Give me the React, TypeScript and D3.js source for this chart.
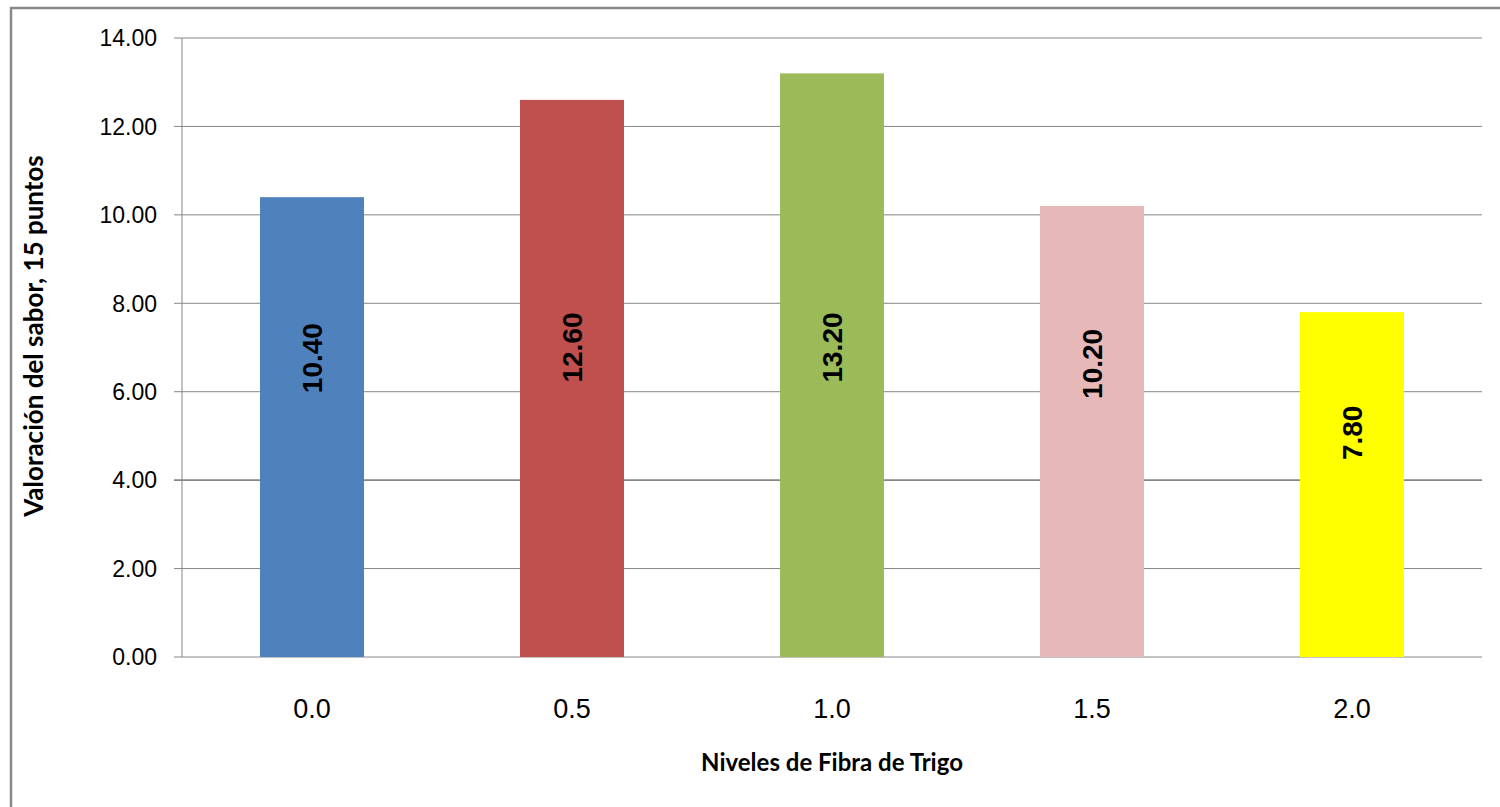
import React from "react";
import * as d3 from "d3";

// Wheat fibre levels and the flavour score (out of 15 points) for each
const niveles: string[] = ["0.0", "0.5", "1.0", "1.5", "2.0"];
const valores: number[] = [10.4, 12.6, 13.2, 10.2, 7.8];
const colores: string[] = ["#4F81BD", "#C0504D", "#9BBB59", "#E6B9B8", "#FFFF00"];
const ticksY: number[] = [0, 2, 4, 6, 8, 10, 12, 14];

const W = 1500;
const H = 807;
const margin = { left: 182, right: 18, top: 38, bottom: 150 };

export default function App() {
  const x = d3
    .scaleBand<string>()
    .domain(niveles)
    .range([margin.left, W - margin.right])
    .paddingInner(0.6)
    .paddingOuter(0.3);
  const band = d3
    .scaleBand<string>()
    .domain(niveles)
    .range([margin.left, W - margin.right]);
  const y = d3.scaleLinear().domain([0, 14]).range([H - margin.bottom, margin.top]);

  const x0 = margin.left;
  const x1 = W - margin.right;
  const grid = "#868686";
  const fmt = d3.format(".2f");

  return (
    <svg
      width={W}
      height={H}
      style={{ position: "absolute", left: 0, top: 0, background: "#fff" }}
    >
      {/* chart frame */}
      <rect x={11} y={8} width={W + 20} height={H + 20} fill="none" stroke="#888" strokeWidth={2.5} />

      {/* gridlines, tick marks and tick labels */}
      {ticksY.map((t) => (
        <g key={t}>
          <line
            x1={x0 - 8}
            x2={x1}
            y1={y(t)}
            y2={y(t)}
            stroke={grid}
            strokeWidth={t === 4 ? 1.6 : 1}
          />
          <text
            x={157}
            y={y(t)}
            dy="0.36em"
            textAnchor="end"
            fontFamily="'Liberation Sans', Arial, sans-serif"
            fontSize={23}
            fill="#000"
          >
            {fmt(t)}
          </text>
        </g>
      ))}
      <line x1={x0} x2={x0} y1={y(14)} y2={y(0)} stroke={grid} strokeWidth={1} />

      {/* bars */}
      {valores.map((v, i) => (
        <rect
          key={niveles[i]}
          x={x(niveles[i])}
          y={y(v)}
          width={x.bandwidth()}
          height={y(0) - y(v)}
          fill={colores[i]}
        />
      ))}

      {/* rotated value labels inside the bars */}
      {valores.map((v, i) => {
        const cx = (x(niveles[i]) as number) + x.bandwidth() / 2;
        const cy = y(Math.min(v * 0.65, 7));
        return (
          <text
            key={"l" + i}
            transform={`translate(${cx},${cy}) rotate(-90)`}
            textAnchor="middle"
            dy="0.36em"
            fontFamily="'Liberation Sans', Arial, sans-serif"
            fontWeight="bold"
            fontSize={28}
            fill="#000"
          >
            {fmt(v)}
          </text>
        );
      })}

      {/* category labels */}
      {niveles.map((n) => (
        <text
          key={"c" + n}
          x={(band(n) as number) + band.bandwidth() / 2}
          y={718}
          textAnchor="middle"
          fontFamily="'Liberation Sans', Arial, sans-serif"
          fontSize={27}
          fill="#000"
        >
          {n}
        </text>
      ))}

      {/* axis titles */}
      <text
        x={(x0 + x1) / 2}
        y={771}
        textAnchor="middle"
        fontFamily="Lato, 'Open Sans', sans-serif"
        fontWeight="bold"
        fontSize={24}
        fill="#000"
      >
        Niveles de Fibra de Trigo
      </text>
      <text
        transform={`translate(43,336) rotate(-90)`}
        textAnchor="middle"
        fontFamily="Lato, 'Open Sans', sans-serif"
        fontWeight="bold"
        fontSize={26}
        fill="#000"
      >
        Valoración del sabor, 15 puntos
      </text>
    </svg>
  );
}
